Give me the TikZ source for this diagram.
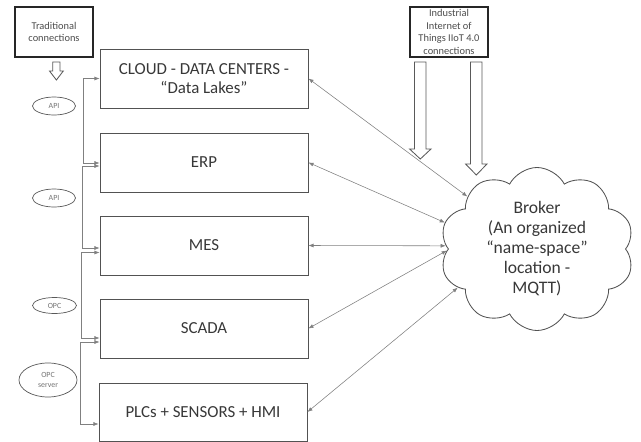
\documentclass[tikz,border=0pt]{standalone}
\usepackage{fontspec}
\setmainfont{Carlito}
\usetikzlibrary{calc,arrows.meta,shapes.symbols,shapes.geometric}
\begin{document}
\begin{tikzpicture}[x=0.025cm,y=-0.025cm,
		level/.style={draw=black!68,line width=0.6pt,minimum width=5.2cm,minimum height=1.475cm,inner sep=0pt,align=center,text=black!78,font=\fontsize{12}{13.8}\selectfont},
		source/.style={draw=black!85,line width=0.8pt,minimum width=1.95cm,minimum height=1.25cm,inner sep=0pt,align=center,text=black!70,font=\fontsize{7.4}{8.9}\selectfont},
		proto/.style={draw=black!65,line width=0.5pt,ellipse,inner sep=0pt,align=center,text=black!55,font=\fontsize{5.6}{6.8}\selectfont},
		hollow/.style={draw=black!65,line width=0.6pt,fill=white},
		link/.style={draw=black!50,line width=0.4pt,{Latex[length=3.6pt,width=2.8pt]}-{Latex[length=3.6pt,width=2.8pt]}}]
	\useasboundingbox (0,0) rectangle (641,442);
	% layers
	\node[level] (cld) at (204,78.5) {CLOUD - DATA CENTERS -\\``Data Lakes''};
	\node[level] (erp) at (204,162.5) {ERP};
	\node[level] (mes) at (204,245.5) {MES};
	\node[level] (scada) at (204,328.5) {SCADA};
	\node[level,minimum height=1.45cm] (plc) at (203,412) {PLCs + SENSORS + HMI};
	% sources
	\node[source] (trad) at (54,32) {Traditional\\connections};
	\node[source] (iiot) at (449,32) {Industrial\\Internet of\\Things IIoT 4.0\\connections};
	\draw[hollow] (52.8,62) -- (60,62) -- (60,71) -- (63.3,71) -- (56.4,80) -- (49.5,71) -- (52.8,71) -- cycle;
	\draw[hollow] (414.5,62) -- (426,62) -- (426,149) -- (431,149) -- (420.3,159) -- (409.6,149) -- (414.5,149) -- cycle;
	\draw[hollow] (470.5,62) -- (482,62) -- (482,164) -- (487,164) -- (476.3,175) -- (465.6,164) -- (470.5,164) -- cycle;
	% protocols
	\node[proto,minimum width=1.075cm,minimum height=0.45cm] (api1) at (54,106) {API};
	\node[proto,minimum width=1.075cm,minimum height=0.45cm] (api2) at (54,198) {API};
	\node[proto,minimum width=1.1cm,minimum height=0.4cm] (opc) at (54.5,305.5) {OPC};
	\node[proto,minimum width=1.45cm,minimum height=0.85cm] (opcs) at (48,380) {OPC\\server};
	% broker
	\node[cloud,draw=black!68,line width=0.6pt,cloud puffs=10,cloud puff arc=125,minimum width=4.85cm,minimum height=3.4cm,inner sep=0pt,align=center,text=black!78,font=\fontsize{12.5}{14.2}\selectfont] (broker) at (537,249) {Broker\\(An organized\\``name-space''\\location -\\MQTT)};
	% vertical chain
	\draw[link] (cld.west) -- ++(-16,0) |- ($(erp.west)+(0,0.5)$);
	\draw[link] ($(erp.west)+(0,3.5)$) -- ++(-17,0) |- ($(mes.west)+(0,2.5)$);
	\draw[link] ($(mes.west)+(0,7)$) -- ++(-18,0) |- ($(scada.west)+(0,9.5)$);
	\draw[link] ($(scada.west)+(0,13.5)$) -- ++(-19,0) |- ($(plc.west)+(0,12)$);
	% to the broker
	\draw[link] (cld.east) -- (broker.143);
	\draw[link] (erp.east) -- (broker.164);
	\draw[link] (mes.east) -- (broker.178);
	\draw[link] (scada.east) -- (broker.181);
	\draw[link] (plc.east) -- (broker.206);
\end{tikzpicture}
\end{document}
